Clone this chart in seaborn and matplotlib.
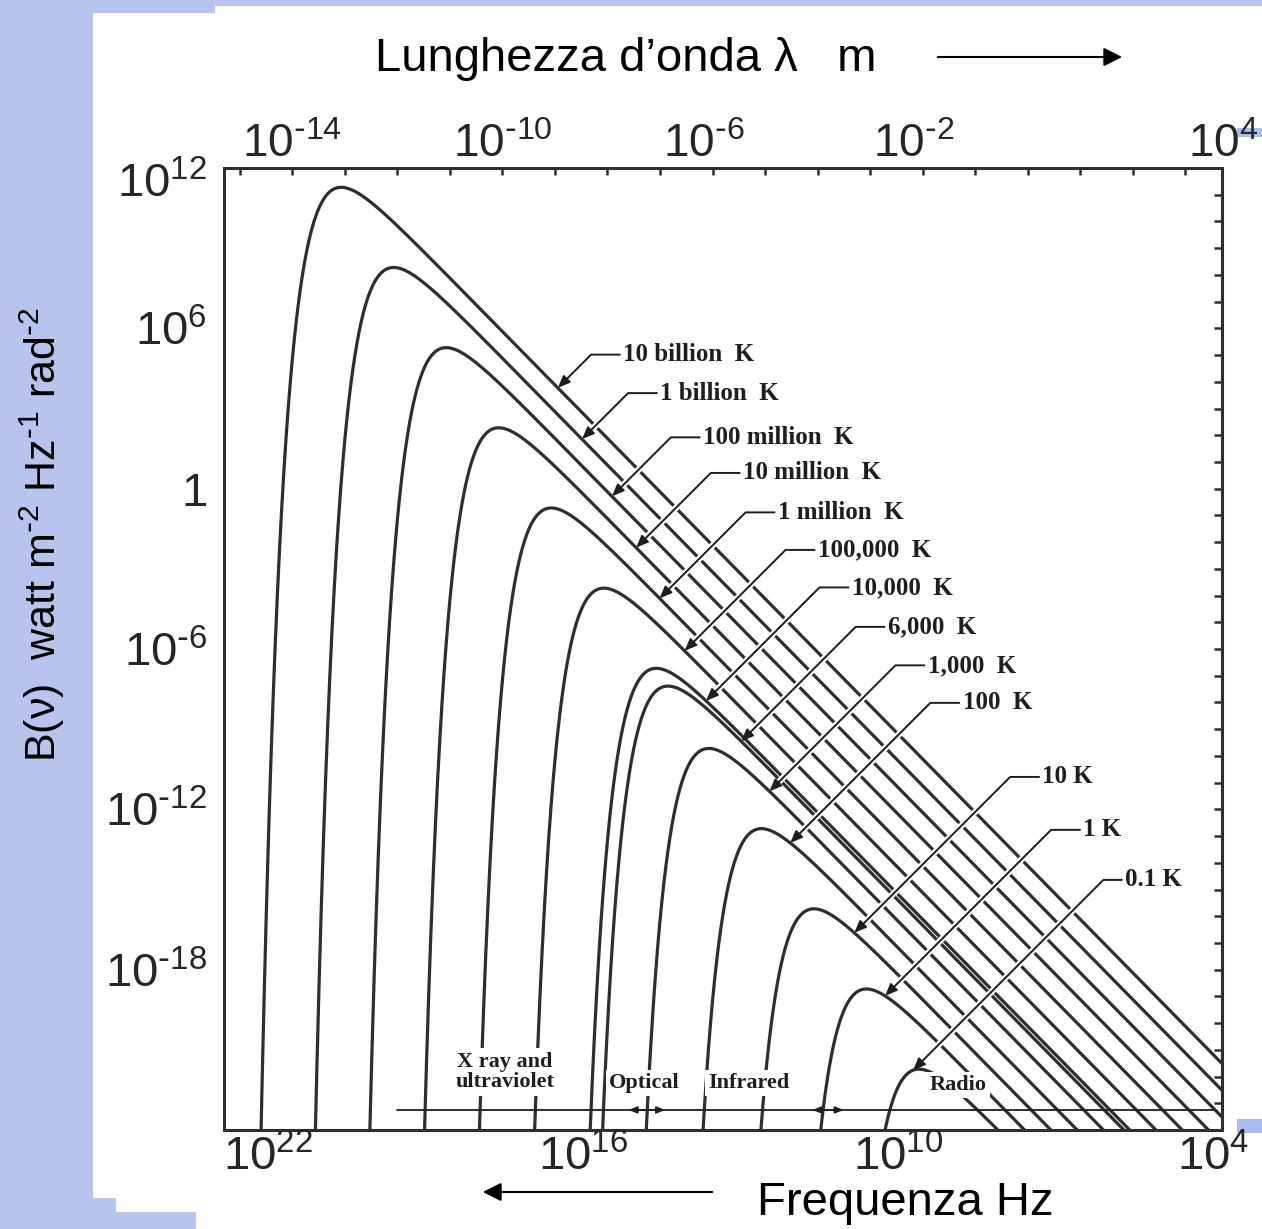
import numpy as np
import pandas as pd
import matplotlib
matplotlib.use("Agg")
import matplotlib.pyplot as plt
import seaborn as sns
from matplotlib.patches import Rectangle, FancyArrowPatch
from matplotlib.ticker import LogLocator, FixedLocator, NullFormatter
from matplotlib.mathtext import MathTextParser

# ---- data -----------------------------------------------------------------
# black-body temperatures (K) and the tags written next to each curve
temperatures = [1e10, 1e9, 1e8, 1e7, 1e6, 1e5, 1e4, 6e3, 1e3, 1e2, 10.0, 1.0, 0.1]
temp_labels = ["10 billion  K", "1 billion  K", "100 million  K", "10 million  K",
               "1 million  K", "100,000  K", "10,000  K", "6,000  K", "1,000  K",
               "100  K", "10 K", "1 K", "0.1 K"]

freq_ticks = [1e22, 1e16, 1e10, 1e4]
freq_exponents = ["22", "16", "10", "4"]
wavelength_ticks = [1e-14, 1e-10, 1e-6, 1e-2, 1e4]
wavelength_exponents = ["-14", "-10", "-6", "-2", "4"]
b_ticks = [1e12, 1e6, 1.0, 1e-6, 1e-12, 1e-18]
b_exponents = ["12", "6", None, "-6", "-12", "-18"]

band_names = ["X ray and\nultraviolet", "Optical", "Infrared", "Radio"]
band_centres_hz = [10**17.65, 1e15, 1e13, 10**9.03]

# ---- physics ----------------------------------------------------------------
H_PLANCK = 6.62607015e-34
K_BOLTZ = 1.380649e-23
C_LIGHT = 2.99792458e8


def planck(nu, T):
    with np.errstate(over="ignore"):
        return 2 * H_PLANCK * nu**3 / C_LIGHT**2 / np.expm1(H_PLANCK * nu / (K_BOLTZ * T))


nu_grid = np.logspace(3.9, 23.2, 6000)
frames = []
for T, lab in zip(temperatures, temp_labels):
    b = planck(nu_grid, T)
    keep = b > 1e-60
    frames.append(pd.DataFrame({"nu": nu_grid[keep], "B": b[keep], "curve": lab}))
df = pd.concat(frames, ignore_index=True)

# ---- style --------------------------------------------------------------------
sns.set_theme(style="white")
plt.rcParams["font.family"] = ["Liberation Sans", "DejaVu Sans"]
plt.rcParams["mathtext.default"] = "regular"


def _hyphen_ok():
    try:
        MathTextParser("path").parse(r"$x^{\text{-}2}$")
        return True
    except Exception:
        return False


HYPHEN = r"\text{-}" if _hyphen_ok() else "-"


def power(exp):
    """'10' with a raised exponent, using a short hyphen for negatives."""
    if exp is None:
        return "1"
    return "10$^{%s}$" % exp.replace("-", HYPHEN)


def sup(exp):
    return "$^{%s}$" % exp.replace("-", HYPHEN)


W, H = 1262, 1229
BG = "#b8c4ee"
INK = "#2e2e2e"
SERIF = ["Liberation Serif", "DejaVu Serif"]

fig = plt.figure(figsize=(W / 100, H / 100), dpi=100, facecolor=BG)


def px_rect(x0, y0, x1, y1, color):
    fig.add_artist(Rectangle((x0 / W, 1 - y1 / H), (x1 - x0) / W, (y1 - y0) / H,
                             transform=fig.transFigure, facecolor=color,
                             edgecolor="none", zorder=0))


# white slide panel
px_rect(93, 13, W, 1198, "white")
px_rect(116, 13, W, 1212, "white")
px_rect(196, 13, W, H, "white")
px_rect(215, 6, W, H, "white")
px_rect(1237, 128, W, 137, "#a9bdf0")
px_rect(1237, 1119, W, 1133, "#a9bdf0")

ax = fig.add_axes([224 / W, 1 - 1130 / H, 998 / W, 962 / H])
ax.set_facecolor("white")
ax.set_xscale("log")
ax.set_yscale("log")

sns.lineplot(data=df, x="nu", y="B", hue="curve",
             palette={lab: INK for lab in temp_labels},
             estimator=None, sort=False, legend=False, lw=2.3, ax=ax)

ax.set_xlim(1e23, 1e4)
ax.set_ylim(1e-24, 1e12)
ax.set_xlabel("")
ax.set_ylabel("")

for s in ax.spines.values():
    s.set_linewidth(2.2)
    s.set_color(INK)

# frequency axis (bottom): decade ticks, labels set slightly left of their decade
ax.set_xticks(freq_ticks, labels=[""] * len(freq_ticks))
ax.xaxis.set_minor_locator(LogLocator(base=10, subs=(1.0,), numticks=100))
ax.xaxis.set_minor_formatter(NullFormatter())
ax.tick_params(axis="x", which="both", direction="in", length=5, width=1.8,
               color=INK, top=False)
for nu_t, e in zip(freq_ticks, freq_exponents):
    ax.annotate(power(e), xy=(nu_t, 0.0), xycoords=ax.get_xaxis_transform(),
                xytext=(-9, -5), textcoords="offset pixels", ha="center",
                va="top", fontsize=34, annotation_clip=False)

# brightness axis (left)
ax.set_yticks(b_ticks, labels=[""] + [power(e) for e in b_exponents[1:]])
ax.yaxis.set_minor_locator(LogLocator(base=10, subs=(1.0,), numticks=100))
ax.yaxis.set_minor_formatter(NullFormatter())
ax.tick_params(axis="y", which="major", direction="in", length=22, width=1.1,
               color="black", right=False, labelsize=34, pad=12)
ax.tick_params(axis="y", which="minor", direction="in", length=6, width=1.8,
               color=INK, right=False)
ax.annotate(power(b_exponents[0]), xy=(0.0, b_ticks[0]), xycoords=ax.get_yaxis_transform(),
            xytext=(-17, -12), textcoords="offset pixels", ha="right",
            va="center_baseline", fontsize=34, annotation_clip=False)

# wavelength axis (top): small ticks on the frame, labels at wavelength decades
top = ax.secondary_xaxis("top")
top.set_xticks([])
top.xaxis.set_minor_locator(FixedLocator(5 * 10.0 ** np.arange(4, 23)))
top.xaxis.set_minor_formatter(NullFormatter())
top.tick_params(axis="x", which="minor", direction="in", length=5, width=1.8, color=INK)
for s in top.spines.values():
    s.set_visible(False)
for lam, e in zip(wavelength_ticks, wavelength_exponents):
    ax.annotate(power(e), xy=(C_LIGHT / lam, 1.0), xycoords=ax.get_xaxis_transform(),
                xytext=(-9, 11), textcoords="offset pixels", ha="left",
                va="baseline", fontsize=33, annotation_clip=False)

# plain decade ticks on the right
right = ax.secondary_yaxis("right")
right.set_yticks(10.0 ** np.arange(-23, 12))
right.tick_params(axis="y", which="major", direction="in", length=6, width=1.8,
                  color=INK, labelright=False)
right.yaxis.set_minor_locator(FixedLocator([]))
for s in right.spines.values():
    s.set_visible(False)

# ---- temperature tags with leader lines ----------------------------------------
label_anchor = [(0.400, 0.806), (0.437, 0.766), (0.480, 0.720), (0.520, 0.683),
                (0.555, 0.642), (0.595, 0.603), (0.629, 0.564), (0.665, 0.523),
                (0.705, 0.483), (0.740, 0.444), (0.820, 0.367), (0.861, 0.312),
                (0.903, 0.260)]
ELBOW_PX = 32
to_disp = ax.transData.transform
for T, lab, (fx, fy) in zip(temperatures, temp_labels, label_anchor):
    ax_pt = ax.transAxes.transform((fx, fy))
    xe, ye = ax_pt[0] - ELBOW_PX, ax_pt[1]
    nu_peak = 5.879e10 * T
    nu = nu_grid[nu_grid < 1.3 * nu_peak]
    b = planck(nu, T)
    d = to_disp(np.column_stack([nu, b]))
    # signed offset from the 45-degree leader through the elbow
    g = (d[:, 1] - ye) - (d[:, 0] - xe)
    rj = nu < nu_peak
    if np.any(g[rj] >= 0):
        i = int(np.argmax(g >= 0))
    else:
        i = int(np.argmin(np.abs(g)))
    xy = (nu[i], b[i])
    common = dict(xy=xy, xycoords="data", xytext=(fx, fy), textcoords="axes fraction",
                  ha="left", va="center", fontsize=18, fontweight="bold",
                  family=SERIF, annotation_clip=False)
    ax.annotate(lab, color="none", zorder=4,
                arrowprops=dict(arrowstyle="-", color="white", lw=4.5,
                                connectionstyle="angle,angleA=0,angleB=45,rad=0",
                                shrinkA=0, shrinkB=7, relpos=(0, 0.5)),
                **common)
    ax.annotate(lab, color="#1e1e1e", zorder=5,
                arrowprops=dict(arrowstyle="-|>,head_length=0.6,head_width=0.25",
                                mutation_scale=12, color="#1e1e1e", lw=1.4,
                                connectionstyle="angle,angleA=0,angleB=45,rad=0",
                                shrinkA=0, shrinkB=0, relpos=(0, 0.5)),
                **common)

# ---- spectral bands along the bottom ------------------------------------------
band_level = 10**-23.25
ax.plot([10**19.71, 10**4.17], [band_level, band_level], color="#1e1e1e", lw=1.3, zorder=3)
for lo, hi in [(10**15.3, 10**14.6), (10**11.8, 10**11.2)]:
    ax.annotate("", xy=(hi, band_level), xytext=(lo, band_level),
                arrowprops=dict(arrowstyle="<|-|>,head_length=0.5,head_width=0.2",
                                mutation_scale=10, color="#1e1e1e", lw=1.3,
                                shrinkA=0, shrinkB=0), zorder=3)

band_levels = [10**-21.83, 10**-22.24, 10**-22.24, 10**-22.32]
for name, nu_c, lvl in zip(band_names, band_centres_hz, band_levels):
    ax.text(nu_c, lvl, name, ha="center", va="center", fontsize=16,
            fontweight="bold", family=SERIF, color="#1e1e1e", linespacing=1.05,
            zorder=6, bbox=dict(boxstyle="square,pad=0.15", facecolor="white",
                                edgecolor="none"))

# ---- slide captions -----------------------------------------------------------
fig.text(626 / W, 1 - 71 / H, "Lunghezza d\u2019onda \u03bb   m", ha="center",
         va="baseline", fontsize=34, color="black")
fig.add_artist(FancyArrowPatch(
    (935 / W, 1 - 57 / H), (1125 / W, 1 - 57 / H), transform=fig.transFigure,
    arrowstyle="-|>,head_length=0.8,head_width=0.4", mutation_scale=14,
    color="black", lw=1.5))

fig.text(905 / W, 1 - 1215 / H, "Frequenza Hz", ha="center", va="baseline",
         fontsize=34, color="black")
fig.add_artist(FancyArrowPatch(
    (715 / W, 1 - 1192 / H), (480 / W, 1 - 1192 / H), transform=fig.transFigure,
    arrowstyle="-|>,head_length=0.8,head_width=0.4", mutation_scale=14,
    color="black", lw=1.5))

fig.text(42 / W, 1 - 535 / H,
         "B(\u03bd)  watt m" + sup("-2") + " Hz" + sup("-1") + " rad" + sup("-2"),
         rotation=90, ha="center", va="center", fontsize=31, color="black")

fig.savefig("out.png", dpi=100, facecolor=BG)
